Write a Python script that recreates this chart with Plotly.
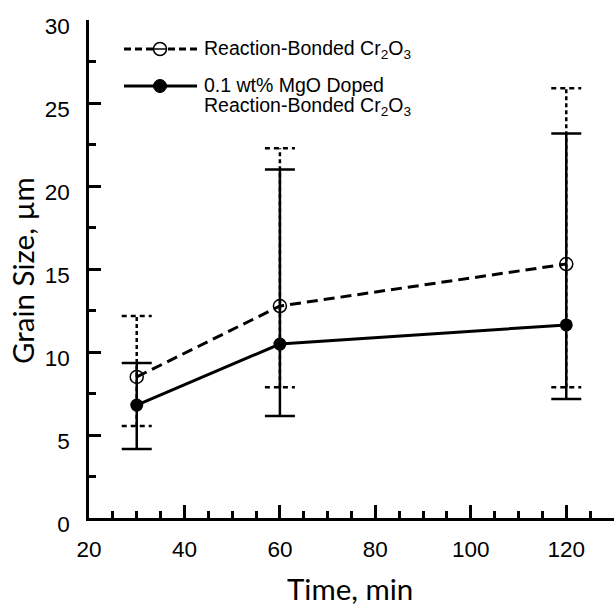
import plotly.graph_objects as go

# ---- data ----
time_min = [30, 60, 120]
rb_mean = [8.5, 12.77, 15.3]
rb_hi = [12.17, 22.27, 25.89]
rb_lo = [5.54, 7.87, 7.87]
mgo_mean = [6.8, 10.48, 11.63]
mgo_hi = [9.34, 21.0, 23.17]
mgo_lo = [4.16, 6.14, 7.17]

x_ticks = [20, 40, 60, 80, 100, 120]
y_ticks = [0, 5, 10, 15, 20, 25, 30]

W, H = 614, 605
L, R, T, B = 89, 614, 20, 518
XR = [20, 130]
YR = [0, 30]

def px(x):
    return (x - L) / (R - L)

def py(y):
    return (B - y) / (B - T)

cap_px = 15
cap_dx = cap_px * (XR[1] - XR[0]) / (R - L)

fig = go.Figure()

# dashed error bars for reaction-bonded series
vx, vy, cx, cy = [], [], [], []
for xi, lo, hi in zip(time_min, rb_lo, rb_hi):
    vx += [xi, xi, None]
    vy += [lo, hi, None]
    for yv in (lo, hi):
        cx += [xi - cap_dx, xi + cap_dx, None]
        cy += [yv, yv, None]
fig.add_trace(go.Scatter(x=vx, y=vy, mode="lines", line=dict(color="black", width=2.5, dash="4px,3px"),
                         showlegend=False, hoverinfo="skip"))
fig.add_trace(go.Scatter(x=cx, y=cy, mode="lines", line=dict(color="black", width=2.5, dash="5px,4px"),
                         showlegend=False, hoverinfo="skip"))

# MgO doped series with solid error bars
fig.add_trace(go.Scatter(
    x=time_min, y=mgo_mean, mode="lines+markers",
    line=dict(color="black", width=3),
    marker=dict(symbol="circle", size=13, color="black"),
    error_y=dict(type="data", symmetric=False,
                 array=[h - m for h, m in zip(mgo_hi, mgo_mean)],
                 arrayminus=[m - l for l, m in zip(mgo_lo, mgo_mean)],
                 color="black", thickness=2.5, width=cap_px),
    showlegend=False))

# reaction-bonded dashed line with open circles
fig.add_trace(go.Scatter(
    x=time_min, y=rb_mean, mode="lines+markers",
    line=dict(color="black", width=3, dash="11px,6px"),
    marker=dict(symbol="circle-open", size=13, color="black", line=dict(width=1.5)),
    showlegend=False))

# ---- custom legend ----
shapes = []
ann = []
lx0, lx1, lmx = 124, 197, 160
r1, r2 = 49, 86
shapes.append(dict(type="line", xref="paper", yref="paper", x0=px(lx0), x1=px(lx1), y0=py(r1), y1=py(r1),
                   line=dict(color="black", width=3, dash="7px,4px")))
shapes.append(dict(type="circle", xref="paper", yref="paper", xsizemode="pixel", ysizemode="pixel",
                   xanchor=px(lmx), yanchor=py(r1), x0=-6.5, x1=6.5, y0=-6.5, y1=6.5,
                   fillcolor="white", line=dict(color="black", width=1.5)))
shapes.append(dict(type="line", xref="paper", yref="paper", x0=px(lmx - 6), x1=px(lmx + 6), y0=py(r1), y1=py(r1),
                   line=dict(color="black", width=1.5)))
shapes.append(dict(type="line", xref="paper", yref="paper", x0=px(lx0), x1=px(lx1), y0=py(r2), y1=py(r2),
                   line=dict(color="black", width=3)))
shapes.append(dict(type="circle", xref="paper", yref="paper", xsizemode="pixel", ysizemode="pixel",
                   xanchor=px(lmx), yanchor=py(r2), x0=-6.5, x1=6.5, y0=-6.5, y1=6.5,
                   fillcolor="black", line=dict(color="black", width=1)))

lf = dict(family="Liberation Sans, Arial, sans-serif", size=19.5, color="black")
ann.append(dict(xref="paper", yref="paper", x=px(202), y=py(r1 + 1), xanchor="left", yanchor="middle",
                text="Reaction-Bonded Cr<sub>2</sub>O<sub>3</sub>", showarrow=False, font=lf))
ann.append(dict(xref="paper", yref="paper", x=px(202), y=py(r2 - 1), xanchor="left", yanchor="middle",
                text="0.1 wt% MgO Doped", showarrow=False, font=lf))
ann.append(dict(xref="paper", yref="paper", x=px(202), y=py(r2 + 20), xanchor="left", yanchor="middle",
                text="Reaction-Bonded Cr<sub>2</sub>O<sub>3</sub>", showarrow=False, font=lf))

tf = dict(family="Lato, sans-serif", size=29.5, color="black")
ann.append(dict(xref="paper", yref="paper", x=px(350), y=py(588), xanchor="center", yanchor="middle",
                text="Time, min", showarrow=False, font=tf))
ann.append(dict(xref="paper", yref="paper", x=px(22), y=py(271), xanchor="center", yanchor="middle",
                text="Grain Size, µm", textangle=-90, showarrow=False, font=tf))

tickf = dict(family="Liberation Sans, Arial, sans-serif", size=22.5, color="black")
fig.update_layout(
    width=W, height=H,
    margin=dict(l=L, r=W - R, t=T, b=H - B, pad=0),
    paper_bgcolor="white", plot_bgcolor="white",
    shapes=shapes, annotations=ann,
    xaxis=dict(range=XR, tickvals=x_ticks, ticktext=[str(v) for v in x_ticks],
               showline=True, linecolor="black", linewidth=2.5, mirror=False,
               ticks="inside", ticklen=13, tickwidth=2.5, tickcolor="black",
               minor=dict(dtick=5, tick0=20, ticks="inside", ticklen=7, tickwidth=2.5, tickcolor="black", showgrid=False),
               showgrid=False, zeroline=False, tickfont=tickf, ticklabelstandoff=9),
    yaxis=dict(range=YR, tickvals=y_ticks, ticktext=[str(v) for v in y_ticks],
               showline=True, linecolor="black", linewidth=2.5, mirror=False,
               ticks="inside", ticklen=12, tickwidth=2.5, tickcolor="black",
               minor=dict(dtick=2.5, tick0=0, ticks="inside", ticklen=7, tickwidth=2.5, tickcolor="black", showgrid=False),
               showgrid=False, zeroline=False, tickfont=tickf, ticklabelstandoff=12, ticklabelshift=6),
)

fig.write_html("out.html")
